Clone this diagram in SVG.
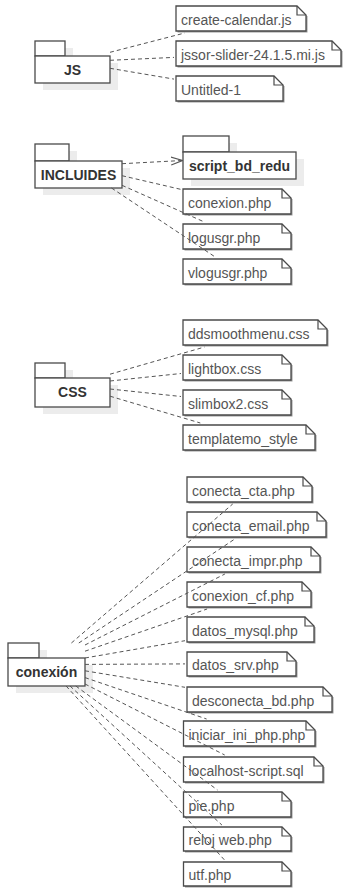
<svg xmlns="http://www.w3.org/2000/svg" width="351" height="890" viewBox="0 0 351 890">
<style>
.bg{fill:#fff}
.pk{fill:#fff;stroke:#4a4a4a;stroke-width:1.3}
.psh{fill:#ececec}
.nt{fill:#fff;stroke:#4a4a4a;stroke-width:1.3}
.nsh{fill:#9a9a9a}
.fold{fill:none;stroke:#4a4a4a;stroke-width:1.2}
.pt{font-family:"Liberation Sans",Arial,sans-serif;font-size:14px;font-weight:bold;fill:#333;text-anchor:middle}
.tt{font-family:"Liberation Sans",Arial,sans-serif;font-size:14px;fill:#555}
.cn{fill:none;stroke:#555;stroke-width:1;stroke-dasharray:4 3}
</style>
<defs>
<marker id="open" viewBox="0 0 12 10" refX="11.5" refY="5" markerWidth="12" markerHeight="10" markerUnits="userSpaceOnUse" orient="auto">
<path d="M0,1 L11.5,5 L0,9" fill="none" stroke="#555" stroke-width="1.1"/>
</marker>
</defs>
<rect class="bg" width="351" height="890"/>

<!-- JS package -->
<g id="pkg-js">
<rect class="psh" x="43" y="48" width="30" height="15"/><rect class="psh" x="43" y="63" width="75" height="27"/>
<rect class="pk" x="35" y="41" width="30" height="15"/><rect class="pk" x="35" y="56" width="75" height="27"/>
<text class="pt" x="72.5" y="75">JS</text>
</g>
<g id="note-create-calendar">
<path class="nsh" d="M177.5,7.5 H298.5 L307.5,16.5 V32.5 H177.5 Z"/>
<path class="nt" d="M176,6 H297 L306,15 V31 H176 Z"/><path class="fold" d="M297,6 V15 H306"/>
<text class="tt" x="181" y="25">create-calendar.js</text>
</g>
<g id="note-jssor">
<path class="nsh" d="M177.5,42.5 H333.5 L342.5,51.5 V67.5 H177.5 Z"/>
<path class="nt" d="M176,41 H332 L341,50 V66 H176 Z"/><path class="fold" d="M332,41 V50 H341"/>
<text class="tt" x="181" y="60">jssor-slider-24.1.5.mi.js</text>
</g>
<g id="note-untitled">
<path class="nsh" d="M177.5,77.5 H275.5 L284.5,86.5 V102.5 H177.5 Z"/>
<path class="nt" d="M176,76 H274 L283,85 V101 H176 Z"/><path class="fold" d="M274,76 V85 H283"/>
<text class="tt" x="181" y="95">Untitled-1</text>
</g>

<!-- INCLUIDES package -->
<g id="pkg-incluides">
<rect class="psh" x="43" y="151" width="34" height="17"/><rect class="psh" x="43" y="168" width="87" height="27"/>
<rect class="pk" x="35" y="144" width="34" height="17"/><rect class="pk" x="35" y="161" width="87" height="27"/>
<text class="pt" x="78.5" y="180">INCLUIDES</text>
</g>
<g id="pkg-script-bd-redu">
<rect class="psh" x="191" y="143" width="46" height="16"/><rect class="psh" x="191" y="159" width="113" height="27"/>
<rect class="pk" x="183" y="136" width="46" height="16"/><rect class="pk" x="183" y="152" width="113" height="27"/>
<text class="pt" x="239.5" y="171">script_bd_redu</text>
</g>
<g id="note-conexion">
<path class="nsh" d="M184.5,190.5 H283.5 L292.5,199.5 V215.5 H184.5 Z"/>
<path class="nt" d="M183,189 H282 L291,198 V214 H183 Z"/><path class="fold" d="M282,189 V198 H291"/>
<text class="tt" x="188" y="208">conexion.php</text>
</g>
<g id="note-logusgr">
<path class="nsh" d="M184.5,225.5 H283.5 L292.5,234.5 V250.5 H184.5 Z"/>
<path class="nt" d="M183,224 H282 L291,233 V249 H183 Z"/><path class="fold" d="M282,224 V233 H291"/>
<text class="tt" x="188" y="243">logusgr.php</text>
</g>
<g id="note-vlogusgr">
<path class="nsh" d="M184.5,260.5 H283.5 L292.5,269.5 V285.5 H184.5 Z"/>
<path class="nt" d="M183,259 H282 L291,268 V284 H183 Z"/><path class="fold" d="M282,259 V268 H291"/>
<text class="tt" x="188" y="278">vlogusgr.php</text>
</g>

<!-- CSS package -->
<g id="pkg-css">
<rect class="psh" x="43" y="370" width="30" height="15"/><rect class="psh" x="43" y="385" width="75" height="29"/>
<rect class="pk" x="35" y="363" width="30" height="15"/><rect class="pk" x="35" y="378" width="75" height="29"/>
<text class="pt" x="72.5" y="397">CSS</text>
</g>
<g id="note-ddsmoothmenu">
<path class="nsh" d="M184.5,321.5 H319.5 L328.5,330.5 V346.5 H184.5 Z"/>
<path class="nt" d="M183,320 H318 L327,329 V345 H183 Z"/><path class="fold" d="M318,320 V329 H327"/>
<text class="tt" x="188" y="339">ddsmoothmenu.css</text>
</g>
<g id="note-lightbox">
<path class="nsh" d="M184.5,356.5 H283.5 L292.5,365.5 V381.5 H184.5 Z"/>
<path class="nt" d="M183,355 H282 L291,364 V380 H183 Z"/><path class="fold" d="M282,355 V364 H291"/>
<text class="tt" x="188" y="374">lightbox.css</text>
</g>
<g id="note-slimbox2">
<path class="nsh" d="M184.5,391.5 H283.5 L292.5,400.5 V416.5 H184.5 Z"/>
<path class="nt" d="M183,390 H282 L291,399 V415 H183 Z"/><path class="fold" d="M282,390 V399 H291"/>
<text class="tt" x="188" y="409">slimbox2.css</text>
</g>
<g id="note-templatemo">
<path class="nsh" d="M184.5,426.5 H307.5 L316.5,435.5 V451.5 H184.5 Z"/>
<path class="nt" d="M183,425 H306 L315,434 V450 H183 Z"/><path class="fold" d="M306,425 V434 H315"/>
<text class="tt" x="188" y="444">templatemo_style</text>
</g>

<!-- conexión package -->
<g id="pkg-conexion">
<rect class="psh" x="16" y="650" width="31" height="15"/><rect class="psh" x="16" y="665" width="77" height="28"/>
<rect class="pk" x="8" y="643" width="31" height="15"/><rect class="pk" x="8" y="658" width="77" height="28"/>
<text class="pt" x="46.5" y="677">conexión</text>
</g>
<g id="note-conecta-cta">
<path class="nsh" d="M188.5,478.5 H304.5 L313.5,487.5 V503.5 H188.5 Z"/>
<path class="nt" d="M187,477 H303 L312,486 V502 H187 Z"/><path class="fold" d="M303,477 V486 H312"/>
<text class="tt" x="192" y="496">conecta_cta.php</text>
</g>
<g id="note-conecta-email">
<path class="nsh" d="M188.5,513.5 H318.5 L327.5,522.5 V538.5 H188.5 Z"/>
<path class="nt" d="M187,512 H317 L326,521 V537 H187 Z"/><path class="fold" d="M317,512 V521 H326"/>
<text class="tt" x="192" y="531">conecta_email.php</text>
</g>
<g id="note-conecta-impr">
<path class="nsh" d="M188.5,548.5 H312.5 L321.5,557.5 V573.5 H188.5 Z"/>
<path class="nt" d="M187,547 H311 L320,556 V572 H187 Z"/><path class="fold" d="M311,547 V556 H320"/>
<text class="tt" x="192" y="566">conecta_impr.php</text>
</g>
<g id="note-conexion-cf">
<path class="nsh" d="M188.5,583.5 H303.5 L312.5,592.5 V608.5 H188.5 Z"/>
<path class="nt" d="M187,582 H302 L311,591 V607 H187 Z"/><path class="fold" d="M302,582 V591 H311"/>
<text class="tt" x="192" y="601">conexion_cf.php</text>
</g>
<g id="note-datos-mysql">
<path class="nsh" d="M188.5,618.5 H306.5 L315.5,627.5 V643.5 H188.5 Z"/>
<path class="nt" d="M187,617 H305 L314,626 V642 H187 Z"/><path class="fold" d="M305,617 V626 H314"/>
<text class="tt" x="192" y="636">datos_mysql.php</text>
</g>
<g id="note-datos-srv">
<path class="nsh" d="M188.5,653.5 H288.5 L297.5,662.5 V677.5 H188.5 Z"/>
<path class="nt" d="M187,652 H287 L296,661 V676 H187 Z"/><path class="fold" d="M287,652 V661 H296"/>
<text class="tt" x="192" y="670">datos_srv.php</text>
</g>
<g id="note-desconecta-bd">
<path class="nsh" d="M188.5,688.5 H324.5 L333.5,697.5 V713.5 H188.5 Z"/>
<path class="nt" d="M187,687 H323 L332,696 V712 H187 Z"/><path class="fold" d="M323,687 V696 H332"/>
<text class="tt" x="192" y="706">desconecta_bd.php</text>
</g>
<g id="note-iniciar-ini">
<path class="nsh" d="M185,722.5 H307.5 L316.5,731.5 V747.5 H185 Z"/>
<path class="nt" d="M183.5,721 H306 L315,730 V746 H183.5 Z"/><path class="fold" d="M306,721 V730 H315"/>
<text class="tt" x="188.5" y="740">iniciar_ini_php.php</text>
</g>
<g id="note-localhost">
<path class="nsh" d="M185,758.5 H315.5 L324.5,767.5 V783.5 H185 Z"/>
<path class="nt" d="M183.5,757 H314 L323,766 V782 H183.5 Z"/><path class="fold" d="M314,757 V766 H323"/>
<text class="tt" x="188.5" y="776">localhost-script.sql</text>
</g>
<g id="note-pie">
<path class="nsh" d="M185,793.5 H283.5 L292.5,802.5 V818.5 H185 Z"/>
<path class="nt" d="M183.5,792 H282 L291,801 V817 H183.5 Z"/><path class="fold" d="M282,792 V801 H291"/>
<text class="tt" x="188.5" y="811">pie.php</text>
</g>
<g id="note-reloj">
<path class="nsh" d="M185,828.5 H283.5 L292.5,837.5 V852.5 H185 Z"/>
<path class="nt" d="M183.5,827 H282 L291,836 V851 H183.5 Z"/><path class="fold" d="M282,827 V836 H291"/>
<text class="tt" x="188.5" y="845">reloj web.php</text>
</g>
<g id="note-utf">
<path class="nsh" d="M185,863.5 H283.5 L292.5,872.5 V887.5 H185 Z"/>
<path class="nt" d="M183.5,862 H282 L291,871 V886 H183.5 Z"/><path class="fold" d="M282,862 V871 H291"/>
<text class="tt" x="188.5" y="880">utf.php</text>
</g>

<!-- connectors -->
<g id="connectors">
<line class="cn" x1="110" y1="52.3" x2="184.8" y2="33"/>
<line class="cn" x1="110" y1="60.3" x2="174" y2="57.4"/>
<line class="cn" x1="110" y1="68.3" x2="174" y2="79.1"/>

<line class="cn" x1="122" y1="163.7" x2="182.5" y2="160.5" marker-end="url(#open)"/>
<line class="cn" x1="122" y1="175.7" x2="181" y2="189.4"/>
<line class="cn" x1="122" y1="185.3" x2="204.4" y2="222"/>
<line class="cn" x1="111.5" y1="188" x2="215.2" y2="257"/>

<line class="cn" x1="110" y1="374.2" x2="204.6" y2="347"/>
<line class="cn" x1="110" y1="381" x2="181" y2="373.5"/>
<line class="cn" x1="110" y1="389" x2="181" y2="396.5"/>
<line class="cn" x1="110" y1="396.2" x2="200.3" y2="423"/>

<line class="cn" x1="71.4" y1="643" x2="232.7" y2="504"/>
<line class="cn" x1="78.8" y1="643" x2="234.8" y2="539"/>
<line class="cn" x1="85" y1="645" x2="224.9" y2="574"/>
<line class="cn" x1="85" y1="651.2" x2="207.1" y2="609"/>
<line class="cn" x1="85" y1="658" x2="185" y2="640.7"/>
<line class="cn" x1="85" y1="664.4" x2="185" y2="663.9"/>
<line class="cn" x1="85" y1="670.8" x2="185" y2="687.3"/>
<line class="cn" x1="85" y1="677.6" x2="206.6" y2="719"/>
<line class="cn" x1="85" y1="684" x2="224.7" y2="755"/>
<line class="cn" x1="75.8" y1="686" x2="217.5" y2="790"/>
<line class="cn" x1="70" y1="686" x2="221.9" y2="825"/>
<line class="cn" x1="66.1" y1="686" x2="224.5" y2="860"/>
</g>
</svg>
